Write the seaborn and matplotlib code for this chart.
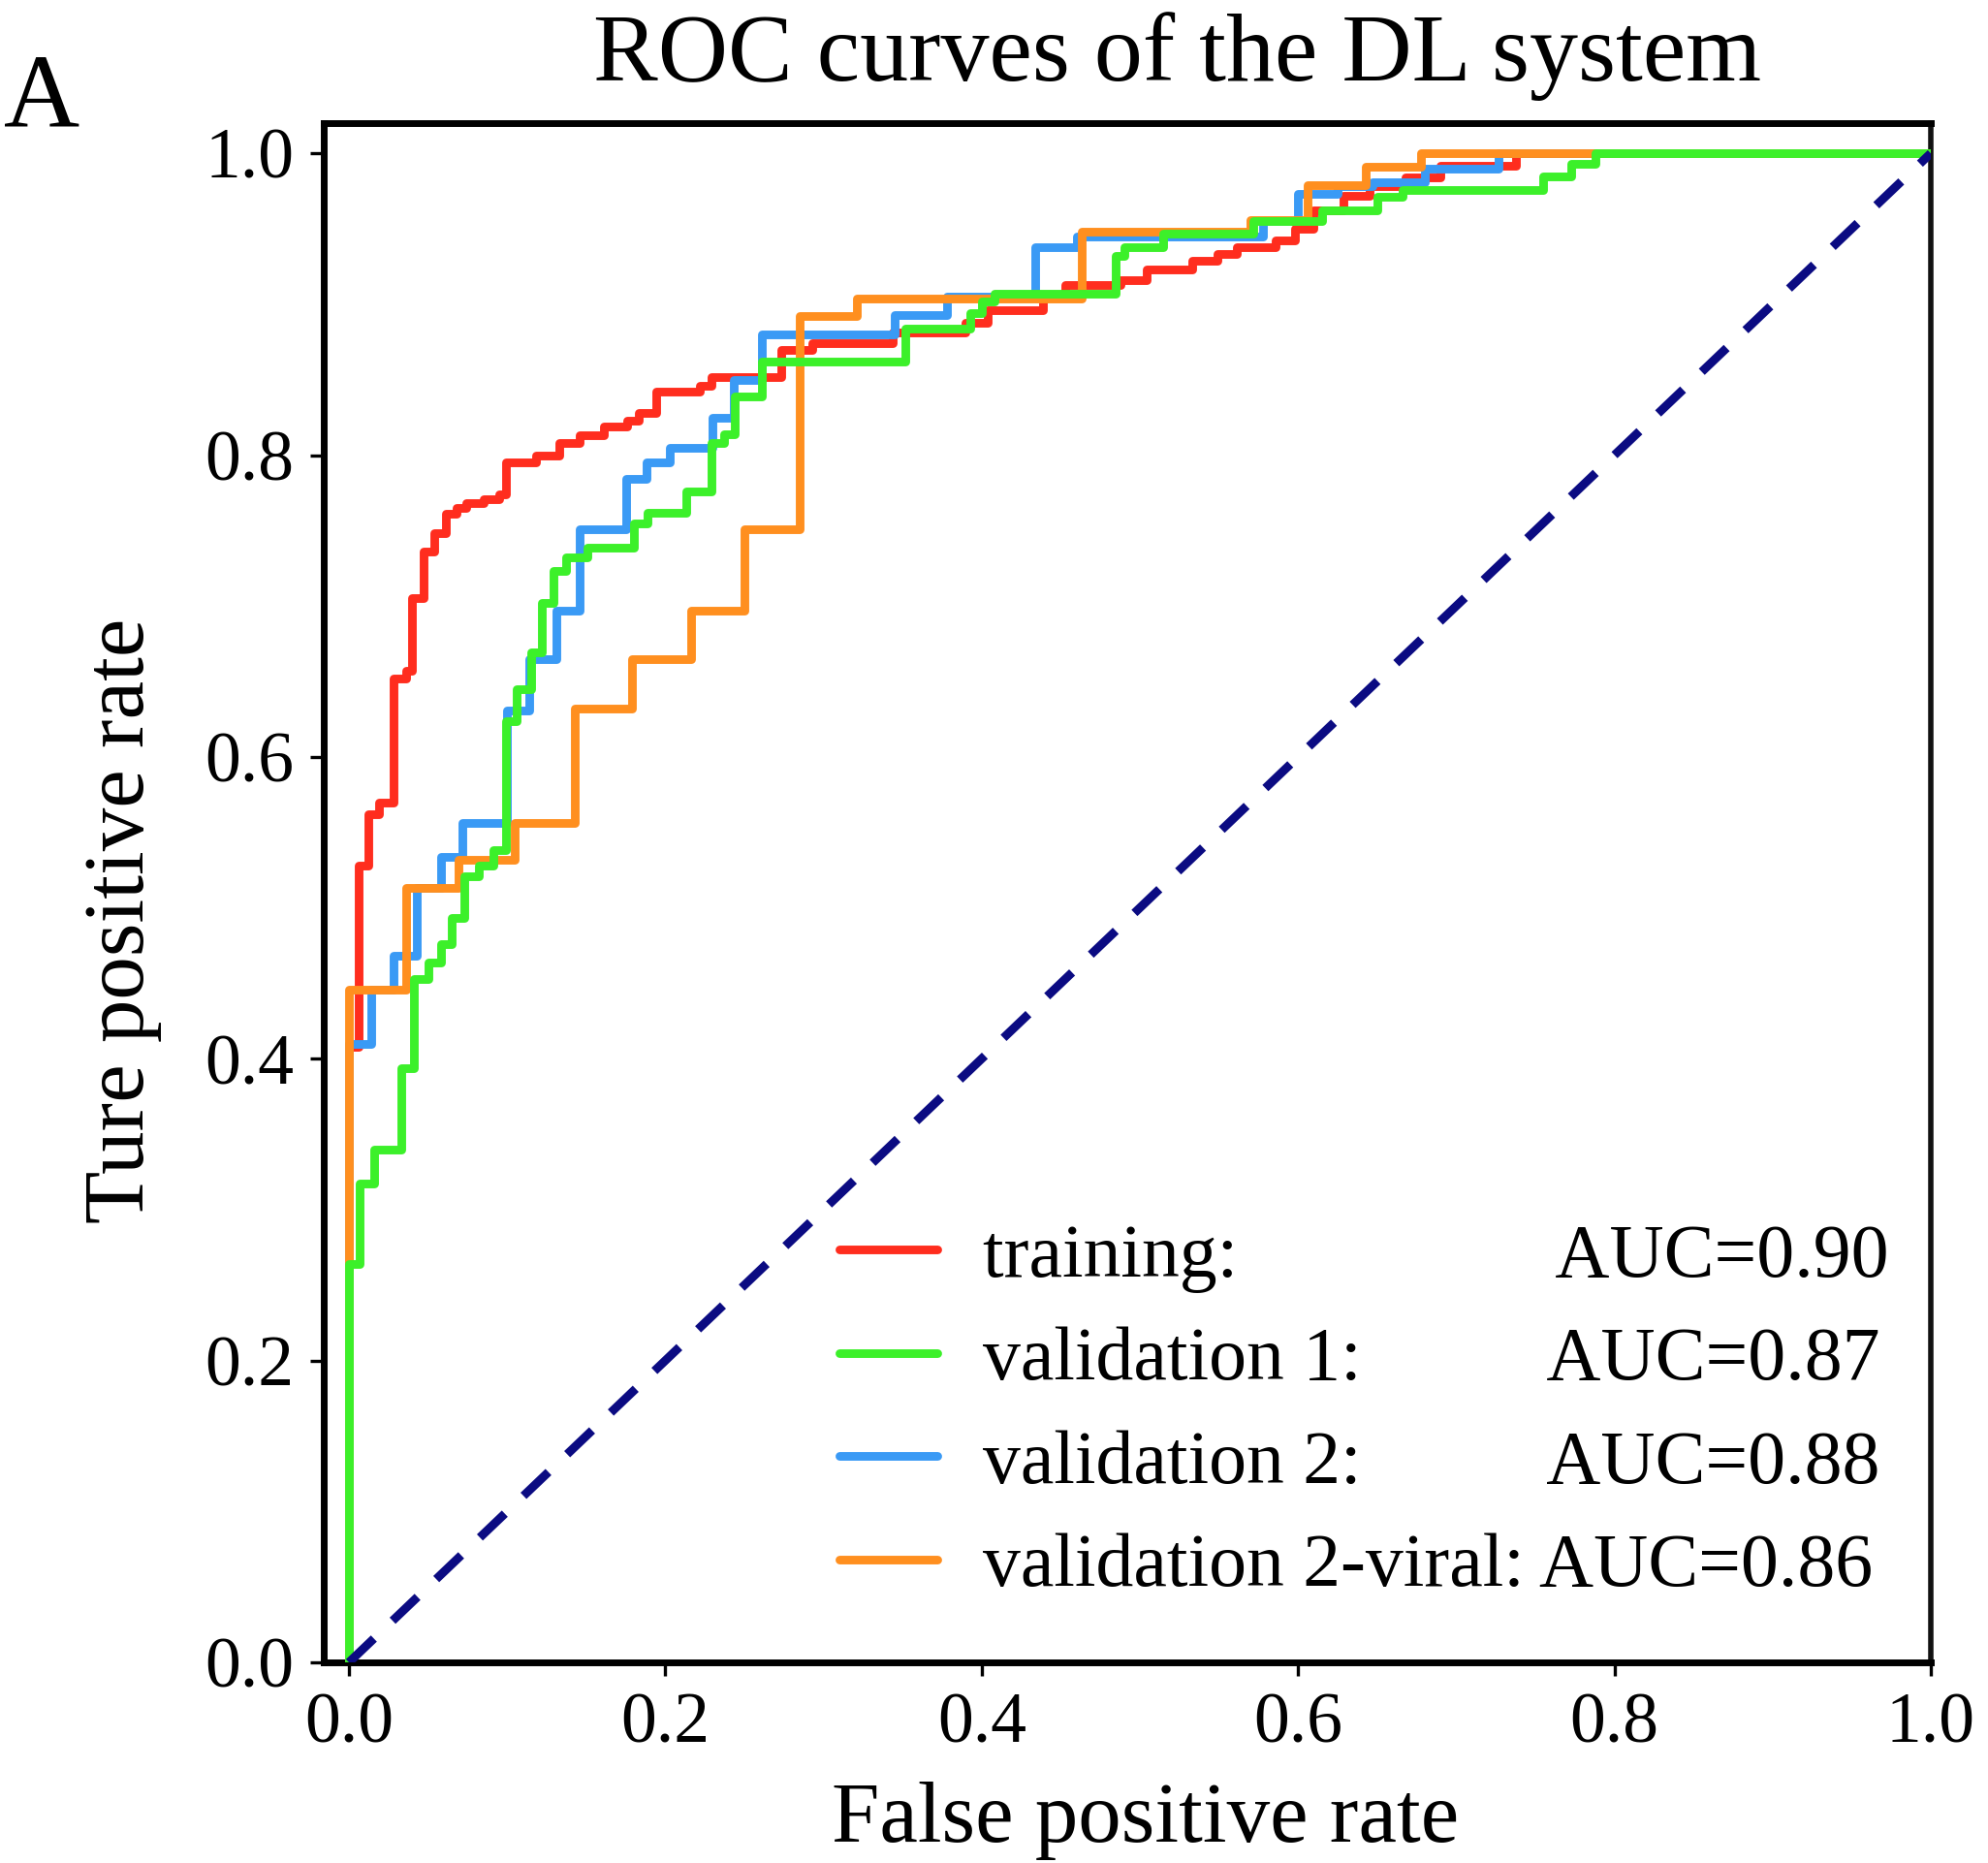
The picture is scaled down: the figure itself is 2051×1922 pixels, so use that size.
import matplotlib
matplotlib.use("Agg")
import matplotlib.pyplot as plt
import seaborn as sns

# ROC step corners (fpr at which tpr reaches the value)
train_fpr = [0, 0, 0.006, 0.012, 0.019, 0.028, 0.036, 0.040, 0.047, 0.054, 0.061, 0.068,
             0.074, 0.085, 0.095, 0.099, 0.118, 0.133, 0.146, 0.161, 0.176, 0.183, 0.194,
             0.222, 0.229, 0.273, 0.293, 0.344, 0.390, 0.404, 0.439, 0.453, 0.488, 0.504,
             0.533, 0.549, 0.561, 0.586, 0.598, 0.610, 0.629, 0.645, 0.668, 0.690, 0.738, 1.0]
train_tpr = [0, 0.408, 0.528, 0.562, 0.570, 0.652, 0.657, 0.705, 0.736, 0.748, 0.761, 0.765,
             0.768, 0.771, 0.774, 0.795, 0.800, 0.808, 0.813, 0.819, 0.823, 0.828, 0.842,
             0.846, 0.852, 0.870, 0.874, 0.881, 0.888, 0.896, 0.905, 0.913, 0.916, 0.923,
             0.929, 0.933, 0.938, 0.942, 0.950, 0.962, 0.972, 0.978, 0.984, 0.992, 1.0, 1.0]

val1_fpr = [0, 0, 0.007, 0.016, 0.033, 0.041, 0.050, 0.058, 0.065, 0.073, 0.082, 0.091,
            0.099, 0.106, 0.115, 0.122, 0.129, 0.137, 0.151, 0.180, 0.189, 0.213, 0.229,
            0.237, 0.244, 0.261, 0.352, 0.393, 0.400, 0.408, 0.485, 0.490, 0.515, 0.572,
            0.615, 0.650, 0.666, 0.755, 0.773, 0.788, 1.0]
val1_tpr = [0, 0.264, 0.317, 0.340, 0.394, 0.453, 0.464, 0.476, 0.493, 0.521, 0.528, 0.538,
            0.624, 0.645, 0.669, 0.702, 0.723, 0.732, 0.739, 0.755, 0.762, 0.776, 0.808,
            0.814, 0.839, 0.862, 0.884, 0.894, 0.902, 0.907, 0.932, 0.938, 0.947, 0.955,
            0.962, 0.971, 0.976, 0.985, 0.993, 1.0, 1.0]

val2_fpr = [0, 0, 0.014, 0.028, 0.043, 0.058, 0.0715, 0.100, 0.114, 0.131, 0.146, 0.175,
            0.188, 0.203, 0.230, 0.243, 0.261, 0.345, 0.378, 0.434, 0.460, 0.578, 0.600,
            0.625, 0.647, 0.680, 0.727, 1.0]
val2_tpr = [0, 0.410, 0.446, 0.468, 0.513, 0.534, 0.556, 0.631, 0.665, 0.697, 0.751, 0.784,
            0.795, 0.805, 0.825, 0.850, 0.880, 0.893, 0.905, 0.938, 0.945, 0.955, 0.973,
            0.978, 0.981, 0.990, 1.0, 1.0]

viral_fpr = [0, 0, 0.036, 0.069, 0.105, 0.143, 0.179, 0.216, 0.250, 0.285, 0.321, 0.463,
             0.570, 0.606, 0.643, 0.678, 1.0]
viral_tpr = [0, 0.446, 0.513, 0.532, 0.556, 0.632, 0.665, 0.697, 0.751, 0.892, 0.904, 0.948,
             0.956, 0.979, 0.991, 1.0, 1.0]

chance_x = [0, 1]
chance_y = [0, 1]

names = ["training:", "validation 1:", "validation 2:", "validation 2-viral:"]
aucs = ["0.90", "0.87", "0.88", "0.86"]
pads = [17, 10, 10, 1]  # spaces used in the original legend to line up the AUCs
colors = ["#ff2d1e", "#3cf02a", "#3a9af5", "#ff8f1f"]
zorders = [2, 5, 3, 4]

sns.set_style("ticks")
plt.rcParams["font.family"] = ["Liberation Serif", "DejaVu Serif"]
plt.rcParams["text.color"] = "black"
plt.rcParams["axes.labelcolor"] = "black"
plt.rcParams["xtick.color"] = "black"
plt.rcParams["ytick.color"] = "black"

fig = plt.figure(figsize=(10.255, 9.61), dpi=200)
ax = fig.add_axes([0.1628, 0.1077, 0.8084, 0.8262])

curves = [(train_fpr, train_tpr), (val1_fpr, val1_tpr), (val2_fpr, val2_tpr), (viral_fpr, viral_tpr)]
for (fpr, tpr), name, auc, pad, col, z in zip(curves, names, aucs, pads, colors, zorders):
    sns.lineplot(x=fpr, y=tpr, sort=False, estimator=None, drawstyle="steps-post",
                 color=col, lw=3.2, zorder=z, ax=ax,
                 label=name + " " * pad + "AUC=" + auc)

sns.lineplot(x=chance_x, y=chance_y, sort=False, estimator=None, color="#0b0b82",
             lw=3.2, linestyle=(0, (4, 3)), zorder=6, ax=ax)

ax.set_xlim(-0.016, 1.0)
ax.set_ylim(0, 1.02)
ticks = [0, 0.2, 0.4, 0.6, 0.8, 1.0]
ax.set_xticks(ticks)
ax.set_yticks(ticks)
ax.set_xticklabels([f"{t:.1f}" for t in ticks])
ax.set_yticklabels([f"{t:.1f}" for t in ticks])
ax.tick_params(direction="out", length=5, width=1.2, pad=6, labelsize=26.5)

for side in ["top", "left", "bottom"]:
    ax.spines[side].set_linewidth(2.5)
    ax.spines[side].set_color("black")
ax.spines["right"].set_linewidth(2.0)
ax.spines["right"].set_color("#111111")

ax.set_xlabel("False positive rate", fontsize=32)
ax.set_ylabel("Ture positive rate", fontsize=32)
ax.xaxis.label.set_va("center")
ax.yaxis.label.set_va("center")
ax.xaxis.set_label_coords(0.511, -0.103)
ax.yaxis.set_label_coords(-0.125, 0.482)

ax.text(0.531, 1.028, "ROC curves of the DL system", transform=ax.transAxes,
        ha="center", va="baseline", fontsize=36)
fig.text(0.002, 0.932, "A", ha="left", va="baseline", fontsize=39)

ax.legend(loc="lower left", bbox_to_anchor=(0.321, 0.039), frameon=False, fontsize=28,
          handlelength=1.3, handletextpad=0.6, labelspacing=0.45,
          borderpad=0, borderaxespad=0)

fig.savefig("out.png", dpi=200)
